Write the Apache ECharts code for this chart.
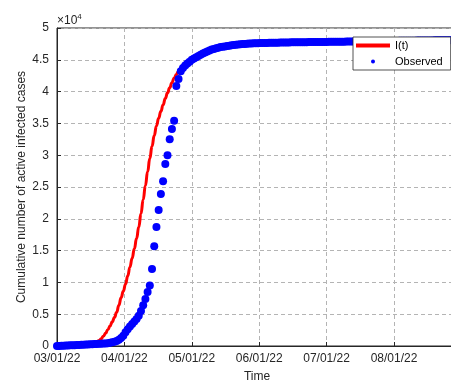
<!DOCTYPE html>
<html>
<head>
<meta charset="utf-8">
<script src="https://cdn.jsdelivr.net/npm/echarts@6/dist/echarts.min.js"></script>
<style>
  html, body { margin: 0; padding: 0; background: #ffffff; }
  #chart { width: 451px; height: 383px; }
</style>
</head>
<body>
<div id="chart"></div>
<script>
// Tick labels for the month starts (days counted from 03/01/22)
const monthLabels = ['03/01/22', '04/01/22', '05/01/22', '06/01/22', '07/01/22', '08/01/22'];

// Model curve I(t): [day, active cases in units of 10^4]
const modelCurve = [
  [0, 0], [5, 0.002], [10, 0.007], [13, 0.014], [15, 0.024], [17, 0.045],
  [18, 0.062], [19, 0.085], [20, 0.115], [21, 0.155], [22, 0.20], [23, 0.255],
  [24, 0.315], [25, 0.38], [26, 0.45], [27, 0.53], [28, 0.64], [29, 0.76],
  [30, 0.86], [31, 0.97], [32, 1.10], [33, 1.24], [34, 1.38], [35, 1.53],
  [36, 1.69], [37, 1.87], [38, 2.08], [39, 2.30], [40, 2.52], [41, 2.74],
  [42, 2.95], [43, 3.14], [44, 3.31], [45, 3.46], [46, 3.58], [47, 3.69],
  [48, 3.79], [49, 3.89], [50, 3.98], [51, 4.06], [52, 4.14], [53, 4.21],
  [54, 4.27], [55, 4.32], [56, 4.37], [57, 4.41], [58, 4.44], [60, 4.49],
  [62, 4.54], [64, 4.58], [66, 4.62], [68, 4.65], [70, 4.67], [73, 4.70],
  [76, 4.72], [80, 4.74], [85, 4.75], [90, 4.76], [100, 4.765], [120, 4.77],
  [150, 4.775], [181, 4.78]
];

// Observed active cases, one value per day from 03/01/22 (units of 10^4)
const observed = [
  0.000, 0.000, 0.002, 0.004, 0.006, 0.008, 0.010, 0.012, 0.013, 0.015,
  0.017, 0.019, 0.020, 0.022, 0.024, 0.026, 0.028, 0.030, 0.032, 0.034,
  0.036, 0.038, 0.041, 0.045, 0.050, 0.057, 0.066, 0.080, 0.100, 0.125,
  0.160, 0.215, 0.265, 0.305, 0.345, 0.385, 0.425, 0.475, 0.550, 0.640,
  0.740, 0.850, 0.950, 1.210, 1.570, 1.870, 2.140, 2.390, 2.590, 2.860,
  3.000, 3.250, 3.410, 3.540, 4.090, 4.200, 4.320, 4.370, 4.410, 4.440,
  4.470, 4.500, 4.520, 4.540, 4.560, 4.580, 4.600, 4.615, 4.630, 4.645,
  4.660, 4.670, 4.680, 4.690, 4.700, 4.705, 4.710, 4.718, 4.722, 4.727,
  4.731, 4.736, 4.740, 4.744, 4.748, 4.750, 4.753, 4.755, 4.757, 4.759,
  4.760, 4.762, 4.763, 4.764, 4.765, 4.766, 4.767, 4.768, 4.769, 4.770,
  4.770, 4.771, 4.772, 4.772, 4.773, 4.773, 4.774, 4.774, 4.775, 4.775,
  4.776, 4.776, 4.777, 4.777, 4.778, 4.778, 4.778, 4.779, 4.779, 4.780,
  4.780, 4.781, 4.781, 4.782, 4.782, 4.783, 4.783, 4.784, 4.784, 4.785,
  4.785, 4.786, 4.786, 4.787, 4.787, 4.788, 4.788, 4.789, 4.789, 4.790,
  4.790, 4.791, 4.791, 4.792, 4.792, 4.793, 4.793, 4.794, 4.794, 4.795,
  4.795, 4.796, 4.796, 4.797, 4.797, 4.798, 4.798, 4.799, 4.799, 4.800,
  4.800, 4.801, 4.801, 4.802, 4.802, 4.803, 4.803, 4.804, 4.804, 4.805,
  4.805, 4.806, 4.806, 4.807, 4.807, 4.808, 4.808, 4.809, 4.809, 4.810,
  4.810, 4.811
];

const observedPoints = observed.map((v, d) => [d, v]);

const textColor = '#262626';
const font = 'Liberation Sans, Arial, Helvetica, sans-serif';
const monthStep = 30.5;

const chart = echarts.init(document.getElementById('chart'), null, { renderer: 'canvas' });

chart.setOption({
  animation: false,
  backgroundColor: '#ffffff',
  grid: {
    left: 57, top: 28, right: -6, bottom: 37,
    outerBoundsMode: 'none',
    containLabel: false,
    show: true, borderColor: textColor, borderWidth: 1, backgroundColor: 'transparent'
  },
  xAxis: {
    type: 'value',
    min: 0, max: 181, interval: monthStep,
    name: 'Time',
    nameLocation: 'middle',
    nameGap: 25,
    nameMoveOverlap: false,
    nameTextStyle: { color: textColor, fontSize: 12, fontFamily: font },
    axisLine: { show: true, onZero: false, lineStyle: { color: textColor, width: 1 } },
    axisTick: { show: true, inside: true, length: 4, lineStyle: { color: textColor } },
    axisLabel: {
      color: textColor, fontSize: 12, fontFamily: font, margin: 7,
      showMaxLabel: false,
      formatter: v => monthLabels[Math.round(v / monthStep)] || ''
    },
    splitLine: { show: true, lineStyle: { color: '#b4b4b4', width: 1, type: [4, 3] } }
  },
  yAxis: {
    type: 'value',
    min: 0, max: 5, interval: 0.5,
    name: 'Cumulative number of active infected cases',
    nameLocation: 'middle',
    nameRotate: 90,
    nameGap: 29,
    nameMoveOverlap: false,
    nameTextStyle: { color: textColor, fontSize: 12, fontFamily: font },
    axisLine: { show: true, lineStyle: { color: textColor, width: 1 } },
    axisTick: { show: true, inside: true, length: 4, lineStyle: { color: textColor } },
    axisLabel: {
      color: textColor, fontSize: 12, fontFamily: font, margin: 8,
      formatter: v => String(Math.round(v * 10) / 10)
    },
    splitLine: { show: true, lineStyle: { color: '#b4b4b4', width: 1, type: [4, 3] } }
  },
  legend: {
    orient: 'vertical',
    left: 353, top: 37,
    padding: [2, 8, 2, 3],
    itemGap: 3,
    itemWidth: 34,
    itemHeight: 4,
    backgroundColor: '#ffffff',
    borderColor: textColor,
    borderWidth: 0.8,
    borderRadius: 0,
    textStyle: { color: '#000000', fontSize: 11, fontFamily: font, lineHeight: 13 },
    data: [
      { name: 'I(t)', icon: 'rect', itemStyle: { color: '#ff0000' } },
      { name: 'Observed', icon: 'circle', itemStyle: { color: '#0000ff' } }
    ]
  },
  graphic: [{
    type: 'text',
    left: 57, top: 13,
    style: {
      text: '{a|×10}{b|4}',
      fill: textColor,
      font: '12px ' + font,
      rich: {
        a: { fontSize: 12, fontFamily: font, fill: textColor, verticalAlign: 'bottom', lineHeight: 14 },
        b: { fontSize: 8, fontFamily: font, fill: textColor, verticalAlign: 'top', lineHeight: 14, padding: [0, 0, 6, 0] }
      }
    }
  }],
  series: [
    {
      name: 'I(t)',
      type: 'line',
      data: modelCurve,
      smooth: true,
      smoothMonotone: 'x',
      showSymbol: false,
      symbol: 'none',
      lineStyle: { color: '#ff0000', width: 3 },
      itemStyle: { color: '#ff0000' },
      z: 2
    },
    {
      name: 'Observed',
      type: 'scatter',
      data: observedPoints,
      symbol: 'circle',
      symbolSize: 8,
      itemStyle: { color: '#0000ff', opacity: 1 },
      z: 3
    }
  ]
});
</script>
</body>
</html>
